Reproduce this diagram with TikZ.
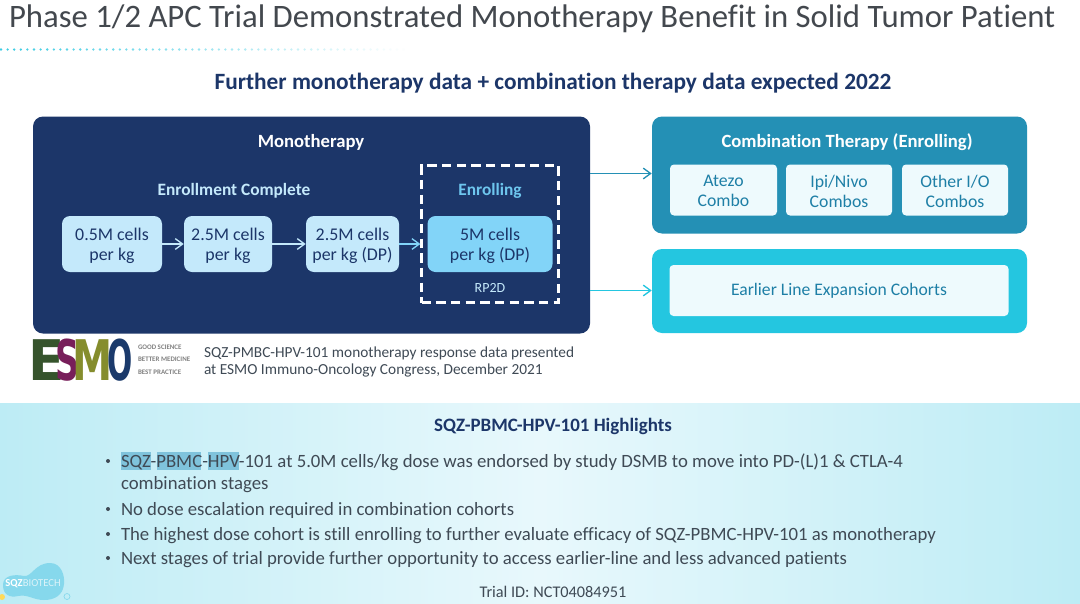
\documentclass[tikz,border=0pt]{standalone}
\usepackage{fontspec}
\setmainfont{Carlito}[Ligatures=NoCommon]
\newfontfamily\esmofont{DejaVu Sans}
\usetikzlibrary{arrows.meta}
\definecolor{navy}{HTML}{1C3669}
\definecolor{titlegray}{HTML}{43484E}
\definecolor{bodygray}{HTML}{3F4A55}
\definecolor{teal1}{HTML}{2490B5}
\definecolor{cyan1}{HTML}{24C6E0}
\definecolor{pale1}{HTML}{C4E9FB}
\definecolor{sky1}{HTML}{82D4F8}
\definecolor{pale2}{HTML}{EEFAFD}
\definecolor{tealtxt}{HTML}{1E7FA6}
\definecolor{enroll}{HTML}{6EC6EE}
\definecolor{hl}{HTML}{7FC3DC}
\definecolor{bandside}{HTML}{BDECF5}
\definecolor{bandmid}{HTML}{E8F8FC}
\definecolor{blob}{HTML}{86D8EC}
\definecolor{esmoE}{HTML}{36542C}
\definecolor{esmoS}{HTML}{781E5A}
\definecolor{esmoM}{HTML}{858D2D}
\definecolor{esmoO}{HTML}{1B3A6B}
\tikzset{
  x=0.75pt,y=-0.75pt,
  txt/.style={inner sep=0pt,outer sep=0pt,align=center},
  cellbox/.style={fill=pale1,rounded corners=6pt,minimum width=100*0.75pt,minimum height=56*0.75pt,inner sep=0pt},
  celltext/.style={txt,font=\fontsize{13.4pt}{15pt}\selectfont,text=navy},
  combobox/.style={fill=pale2,rounded corners=3pt,minimum width=107*0.75pt,minimum height=51*0.75pt,inner sep=0pt},
  combotext/.style={txt,font=\fontsize{13.3pt}{15pt}\selectfont,text=tealtxt},
  link/.style={-{Straight Barb[length=5.5pt,width=8pt,line width=1pt]},line width=1.1pt},
  bul/.style={txt,anchor=base west,align=left,font=\fontsize{14.06pt}{16.5pt}\selectfont,text=bodygray},
  dotb/.style={circle,fill=bodygray,inner sep=0pt,minimum size=3pt},
  esmo/.style={inner sep=0pt,outer sep=0pt,anchor=base,font=\esmofont\bfseries\fontsize{42pt}{42pt}\selectfont},
  tag/.style={txt,anchor=west,text=gray,font=\bfseries\fontsize{5.2pt}{6pt}\selectfont}
}
\begin{document}
\begin{tikzpicture}
\useasboundingbox (0,0) rectangle (1080,603);
\fill[white] (0,0) rectangle (1080,603);
% bottom band
\shade[left color=bandside,right color=bandside,middle color=bandmid] (0,403) rectangle (1080,603);
% title
\node[txt,anchor=base west,text=titlegray,font=\fontsize{24.55pt}{30pt}\selectfont] (title) at (9,27) {Phase 1/2 APC Trial Demonstrated Monotherapy Benefit in Solid Tumor Patient};
\foreach \i in {0,...,62}{
  \pgfmathsetmacro{\k}{max(0,90*(1-\i/62))}
  \fill[cyan1!\k!white] (1+\i*6.6,49.5) circle (1.3);
}
\node[txt,text=navy,font=\bfseries\fontsize{17.5pt}{21pt}\selectfont] (sub) at (553,83) {Further monotherapy data + combination therapy data expected 2022};
% panels
\node[fill=navy,rounded corners=7.5pt,minimum width=557*0.75pt,minimum height=217*0.75pt,inner sep=0pt] (mono) at (311.5,225) {};
\node[fill=teal1,rounded corners=7.5pt,minimum width=375*0.75pt,minimum height=117*0.75pt,inner sep=0pt] (combo) at (839.5,175) {};
\node[fill=cyan1,rounded corners=7.5pt,minimum width=375*0.75pt,minimum height=84*0.75pt,inner sep=0pt] (early) at (839.5,291) {};
% mono text
\node[txt,text=white,font=\bfseries\fontsize{14pt}{17pt}\selectfont] (monot) at (311,142.5) {Monotherapy};
\node[txt,text=pale1,font=\bfseries\fontsize{13pt}{16pt}\selectfont] (enrc) at (234,190.5) {Enrollment Complete};
\node[txt,text=enroll,font=\bfseries\fontsize{13pt}{16pt}\selectfont] (enr) at (490,190.5) {Enrolling};
\node[cellbox] (c1) at (112,244) {};
\node[cellbox,minimum width=88*0.75pt] (c2) at (228,244) {};
\node[cellbox,minimum width=93*0.75pt] (c3) at (352.5,244) {};
\node[cellbox,fill=sky1,minimum width=125*0.75pt] (c4) at (490,244) {};
\node[celltext] (ct1) at (c1.center) [yshift=-1.6pt] {0.5M cells\\per kg};
\node[celltext] (ct2) at (c2.center) [yshift=-1.6pt] {2.5M cells\\per kg};
\node[celltext] (ct3) at (c3.center) [yshift=-1.6pt] {2.5M cells\\per kg (DP)};
\node[celltext] (ct4) at (c4.center) [yshift=-1.6pt] {5M cells\\per kg (DP)};
\node[draw=white,line width=1.6pt,dash pattern=on 7pt off 4pt,minimum width=137*0.75pt,minimum height=137*0.75pt,inner sep=0pt] (dash) at (490,234) {};
\node[txt,text=pale1,font=\fontsize{10.5pt}{12pt}\selectfont] (rp) at (490,288) {RP2D};
\coordinate (dw) at (dash.west |- c3.east);
\draw[link,draw=pale1] (c1) -- (c2);
\draw[link,draw=pale1] (c2) -- (c3);
\draw[link,draw=sky1] (c3) -- (dw);
% right
\node[txt,text=white,font=\bfseries\fontsize{14pt}{17pt}\selectfont] (combt) at (847,142) {Combination Therapy (Enrolling)};
\node[combobox] (a1) at (723.5,190) {};
\node[combobox,minimum width=106*0.75pt] (a2) at (839,190) {};
\node[combobox,minimum width=106*0.75pt] (a3) at (955,190) {};
\node[combotext] (at1) at (723.5,191) {Atezo\\Combo};
\node[combotext] (at2) at (839,191) {Ipi/Nivo\\Combos};
\node[combotext] (at3) at (955,191) {Other I/O\\Combos};
\node[fill=pale2,rounded corners=3pt,minimum width=339*0.75pt,minimum height=51*0.75pt,inner sep=0pt,text=tealtxt,font=\fontsize{13.2pt}{15pt}\selectfont] (elc) at (839,290.5) {Earlier Line Expansion Cohorts};
\coordinate (m1) at (mono.east |- 0,173.5);
\coordinate (m2) at (mono.east |- 0,290.5);
\coordinate (t1) at (combo.west |- 0,173.5);
\coordinate (t2) at (early.west |- 0,290.5);
\draw[link,draw=teal1] (m1) -- (t1);
\draw[link,draw=cyan1] (m2) -- (t2);
% ESMO logo
\node[esmo,text=esmoE,xscale=0.95] (le) at (47,380) {E};
\node[esmo,text=esmoS,xscale=0.6] (ls) at (68,380) {S};
\node[esmo,text=esmoM,xscale=0.72] (lm) at (93,380) {M};
\node[esmo,text=esmoO,xscale=0.53] (lo) at (120,380) {O};
\node[tag] (g1) at (138,347) {GOOD SCIENCE};
\node[tag] (g2) at (138,359.5) {BETTER MEDICINE};
\node[tag] (g3) at (138,372) {BEST PRACTICE};
\node[txt,anchor=base west,align=left,text=bodygray,font=\fontsize{11.5pt}{12.75pt}\selectfont] (pres) at (204,374) {SQZ-PMBC-HPV-101 monotherapy response data presented\\at ESMO Immuno-Oncology Congress, December 2021};
% highlights
\fill[hl] (121,452) rectangle (151,470);
\fill[hl] (157,452) rectangle (201,470);
\fill[hl] (208,452) rectangle (239,470);
\node[txt,text=navy,font=\bfseries\fontsize{14.2pt}{17pt}\selectfont] (hh) at (553,426) {SQZ-PBMC-HPV-101 Highlights};
\node[dotb] (b1) at (108,461) {};
\node[dotb] (b2) at (108,509) {};
\node[dotb] (b3) at (108,534) {};
\node[dotb] (b4) at (108,558) {};
\node[bul] (t1x) at (121,489) {SQZ-PBMC-HPV-101 at 5.0M cells/kg dose was endorsed by study DSMB to move into PD-(L)1 \& CTLA-4\\combination stages};
\node[bul] (t2x) at (121,515) {No dose escalation required in combination cohorts};
\node[bul] (t3x) at (121,540) {The highest dose cohort is still enrolling to further evaluate efficacy of SQZ-PBMC-HPV-101 as monotherapy};
\node[bul] (t4x) at (121,564) {Next stages of trial provide further opportunity to access earlier-line and less advanced patients};
\node[txt,text=bodygray,font=\fontsize{12.2pt}{14pt}\selectfont] (tid) at (553,592) {Trial ID: NCT04084951};
% SQZ logo
\fill[blob] (3,585) .. controls (3,575) and (15,574) .. (24,576) .. controls (32,577) and (35,563) .. (50,563) .. controls (62,563) and (65,577) .. (64,584) .. controls (63,595) and (55,600) .. (44,600) .. controls (33,600) and (28,594) .. (18,596) .. controls (10,598) and (3,595) .. (3,585) -- cycle;
\fill[orange!45!yellow!65!white] (2,597) circle (3);
\draw[blob,line width=0.5pt] (67,596.5) circle (3);
\node[txt,text=white,font=\fontsize{8pt}{9pt}\selectfont] (sqz) at (33,584) {\textbf{SQZ}{\color{white!70!blob}BIOTECH}};
\end{tikzpicture}
\end{document}
